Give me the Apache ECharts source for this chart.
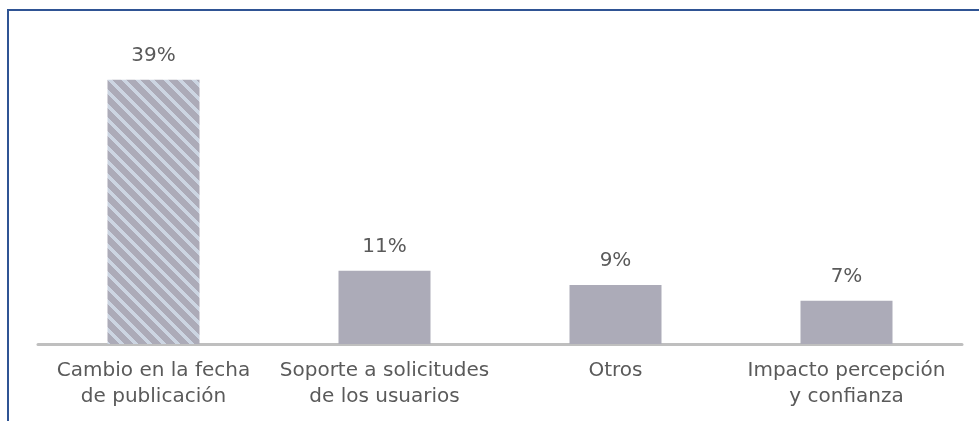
<!DOCTYPE html>
<html>
<head>
<meta charset="utf-8">
<script src="https://cdn.jsdelivr.net/npm/echarts@6/dist/echarts.min.js"></script>
<style>
  html, body { margin: 0; padding: 0; background: #fff; }
  #main { width: 979px; height: 421px; }
</style>
</head>
<body>
<div id="main"></div>
<script type="text/javascript">
    // datos del grafico
    var categorias = ['Cambio en la fecha\nde publicación', 'Soporte a solicitudes\nde los usuarios', 'Otros', 'Impacto percepción\ny confianza'];
    var valores = [39, 10.8, 8.7, 6.4];
    var etiquetas = ['39%', '11%', '9%', '7%'];

    // trama de rayas diagonales (pixel a pixel) para la primera barra
    function rayas() {
        var s = 14, w = 5;
        var c = document.createElement('canvas');
        c.width = s; c.height = s;
        var ctx = c.getContext('2d');
        var img = ctx.createImageData(s, s);
        for (var y = 0; y < s; y++) {
            for (var x = 0; x < s; x++) {
                var d = ((x - y) % s + s) % s;
                var claro = d < w;
                var k = (y * s + x) * 4;
                img.data[k] = claro ? 0xcc : 0xac;
                img.data[k + 1] = claro ? 0xd5 : 0xab;
                img.data[k + 2] = claro ? 0xe2 : 0xb8;
                img.data[k + 3] = 255;
            }
        }
        ctx.putImageData(img, 0, 0);
        return c;
    }

    var myChart = echarts.init(document.getElementById('main'));
    var fuente = 'DejaVu Sans';

    var datos = valores.map(function (v, i) {
        var d = { value: v, label: { formatter: etiquetas[i] } };
        if (i === 0) {
            d.itemStyle = { color: { image: rayas(), repeat: 'repeat' } };
        }
        return d;
    });

    var option = {
        animation: false,
        backgroundColor: '#ffffff',
        grid: {
            left: 38,
            right: 17,
            top: 73,
            bottom: 77,
            containLabel: false
        },
        xAxis: {
            type: 'category',
            data: categorias,
            axisLine: { lineStyle: { color: '#bfbfbf', width: 3 } },
            axisTick: { show: false },
            axisLabel: {
                color: '#5a5a5a',
                fontFamily: fuente,
                fontSize: 20,
                lineHeight: 26,
                margin: 14,
                interval: 0
            }
        },
        yAxis: {
            type: 'value',
            min: 0,
            max: 40,
            show: false,
            splitLine: { show: false }
        },
        series: [{
            type: 'bar',
            barWidth: 92,
            data: datos,
            itemStyle: { color: '#acabb8' },
            label: {
                show: true,
                position: 'top',
                distance: 14,
                color: '#5a5a5a',
                fontFamily: fuente,
                fontSize: 20
            }
        }],
        graphic: [{
            type: 'polyline',
            shape: { points: [[8, 421], [8, 10], [979, 10]] },
            style: { stroke: '#2f5494', lineWidth: 2, fill: null }
        }]
    };

    myChart.setOption(option);
</script>
</body>
</html>
